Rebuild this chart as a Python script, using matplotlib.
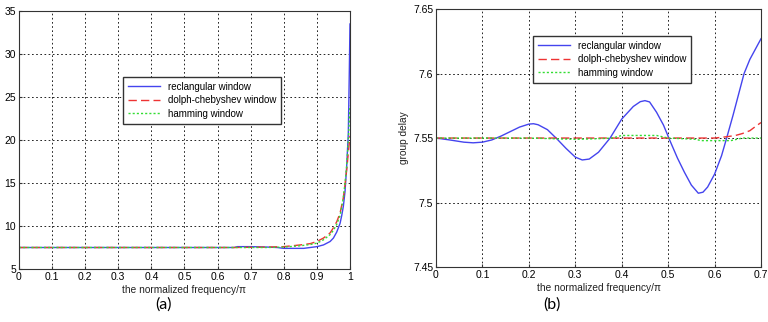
import matplotlib.pyplot as plt

plt.rcParams['font.family'] = ['Liberation Sans', 'DejaVu Sans']

# panel (a): whole band
xa_rect = [0.0, 0.65, 0.66, 0.70, 0.75, 0.78, 0.80, 0.83, 0.86, 0.88, 0.90, 0.92, 0.94, 0.95, 0.96, 0.97, 0.975, 0.98, 0.985, 0.99, 0.995, 0.998, 1.0]
ya_rect = [7.5, 7.5, 7.6, 7.6, 7.55, 7.5, 7.4, 7.4, 7.4, 7.5, 7.6, 7.8, 8.2, 8.6, 9.3, 10.3, 11.2, 12.3, 14.0, 16.9, 20.8, 28.0, 33.5]

xa_cheb = [0.0, 0.65, 0.75, 0.80, 0.85, 0.88, 0.90, 0.92, 0.94, 0.95, 0.96, 0.97, 0.98, 0.985, 0.99, 0.995, 1.0]
ya_cheb = [7.5, 7.5, 7.55, 7.6, 7.8, 7.95, 8.2, 8.6, 9.2, 9.8, 10.5, 11.5, 13.3, 14.8, 16.5, 18.5, 20.5]

xa_hamm = [0.0, 0.65, 0.75, 0.80, 0.85, 0.88, 0.90, 0.92, 0.94, 0.95, 0.96, 0.97, 0.98, 0.985, 0.99, 0.995, 1.0]
ya_hamm = [7.5, 7.5, 7.5, 7.55, 7.7, 7.85, 8.0, 8.4, 9.0, 9.5, 10.2, 11.2, 13.3, 15.0, 17.0, 20.0, 24.0]

# panel (b): group delay in passband
xb_rect = [0.0, 0.03, 0.06, 0.08, 0.10, 0.12, 0.14, 0.16, 0.18, 0.20, 0.21, 0.22, 0.24, 0.26, 0.28, 0.30, 0.315, 0.33, 0.35, 0.375,
           0.40, 0.425, 0.44, 0.45, 0.46, 0.475, 0.49, 0.505, 0.52, 0.535, 0.55, 0.565, 0.575, 0.585, 0.60, 0.615, 0.626, 0.64, 0.6635, 0.676, 0.691, 0.70]
yb_rect = [7.550, 7.5485, 7.5468, 7.5463, 7.5468, 7.5485, 7.5515, 7.5550, 7.5585, 7.5608, 7.5611, 7.5603, 7.5565, 7.5495, 7.5420, 7.5352, 7.5330, 7.5337, 7.5390, 7.5500,
           7.5647, 7.5745, 7.5782, 7.5790, 7.5780, 7.5700, 7.5600, 7.5470, 7.5345, 7.5235, 7.5135, 7.5072, 7.5080, 7.5120, 7.5220, 7.5363, 7.5500, 7.5680, 7.6000, 7.6110, 7.6210, 7.6270]

xb_cheb = [0.0, 0.60, 0.626, 0.645, 0.66, 0.676, 0.69, 0.70]
yb_cheb = [7.550, 7.550, 7.551, 7.552, 7.5535, 7.5557, 7.5595, 7.562]

xb_hamm = [0.0, 0.20, 0.25, 0.30, 0.35, 0.38, 0.40, 0.475, 0.50, 0.56, 0.57, 0.635, 0.66, 0.70]
yb_hamm = [7.550, 7.550, 7.5495, 7.549, 7.5495, 7.550, 7.552, 7.552, 7.550, 7.549, 7.548, 7.548, 7.550, 7.550]

labels = ['reclangular window', 'dolph-chebyshev window', 'hamming window']
c_blue, c_red, c_green = '#4444ee', '#ee3333', '#33dd33'

fig = plt.figure(figsize=(7.68, 3.22), dpi=100)
ax1 = fig.add_axes([0.0247, 0.1646, 0.431, 0.801])
ax2 = fig.add_axes([0.5677, 0.1708, 0.4232, 0.801])


def style(ax):
    ax.grid(True, color='black', linestyle=(0, (2, 3)), linewidth=0.6)
    ax.tick_params(direction='in', labelsize=7.5, length=2, color='#333333', pad=2)
    for s in ax.spines.values():
        s.set_color('#333333')
        s.set_linewidth(0.8)
    ax.set_xlabel('the normalized frequency/\u03c0', fontsize=7.3, labelpad=2, color='#222222')


ax1.plot(xa_rect, ya_rect, color=c_blue, lw=1.0, label=labels[0])
ax1.plot(xa_cheb, ya_cheb, color=c_red, lw=1.0, dashes=(6, 3), label=labels[1])
ax1.plot(xa_hamm, ya_hamm, color=c_green, lw=1.0, dashes=(1.5, 1.5), label=labels[2])
ax1.set_xlim(0, 1)
ax1.set_ylim(5, 35)
ax1.set_xticks([i / 10 for i in range(11)])
ax1.set_xticklabels(['0', '0.1', '0.2', '0.3', '0.4', '0.5', '0.6', '0.7', '0.8', '0.9', '1'])
ax1.set_yticks(range(5, 36, 5))
style(ax1)
ax1.legend(loc='upper left', bbox_to_anchor=(123 / 768, 1 - 77 / 322), bbox_transform=fig.transFigure,
           fontsize=7, fancybox=False, edgecolor='#333333', framealpha=1, handlelength=3.3,
           labelspacing=0.35, borderpad=0.5, handletextpad=0.8, borderaxespad=0)

ax2.plot(xb_rect, yb_rect, color=c_blue, lw=1.0, label=labels[0])
ax2.plot(xb_cheb, yb_cheb, color=c_red, lw=1.0, dashes=(6, 3), label=labels[1])
ax2.plot(xb_hamm, yb_hamm, color=c_green, lw=1.0, dashes=(1.5, 1.5), label=labels[2])
ax2.set_xlim(0, 0.7)
ax2.set_ylim(7.45, 7.65)
ax2.set_xticks([i / 10 for i in range(8)])
ax2.set_xticklabels(['0', '0.1', '0.2', '0.3', '0.4', '0.5', '0.6', '0.7'])
ax2.set_yticks([7.45, 7.5, 7.55, 7.6, 7.65])
ax2.set_yticklabels(['7.45', '7.5', '7.55', '7.6', '7.65'])
style(ax2)
ax2.set_ylabel('group delay', fontsize=7.3, labelpad=3, color='#222222')
ax2.legend(loc='upper left', bbox_to_anchor=(533 / 768, 1 - 36 / 322), bbox_transform=fig.transFigure,
           fontsize=7, fancybox=False, edgecolor='#333333', framealpha=1, handlelength=3.3,
           labelspacing=0.35, borderpad=0.5, handletextpad=0.8, borderaxespad=0)

fig.text(163 / 768, 1 - 305 / 322, '(a)', fontsize=11.5, family=['Lato', 'DejaVu Sans'], ha='center', va='center')
fig.text(552 / 768, 1 - 305 / 322, '(b)', fontsize=11.5, family=['Lato', 'DejaVu Sans'], ha='center', va='center')

fig.savefig('out.png', dpi=100)
